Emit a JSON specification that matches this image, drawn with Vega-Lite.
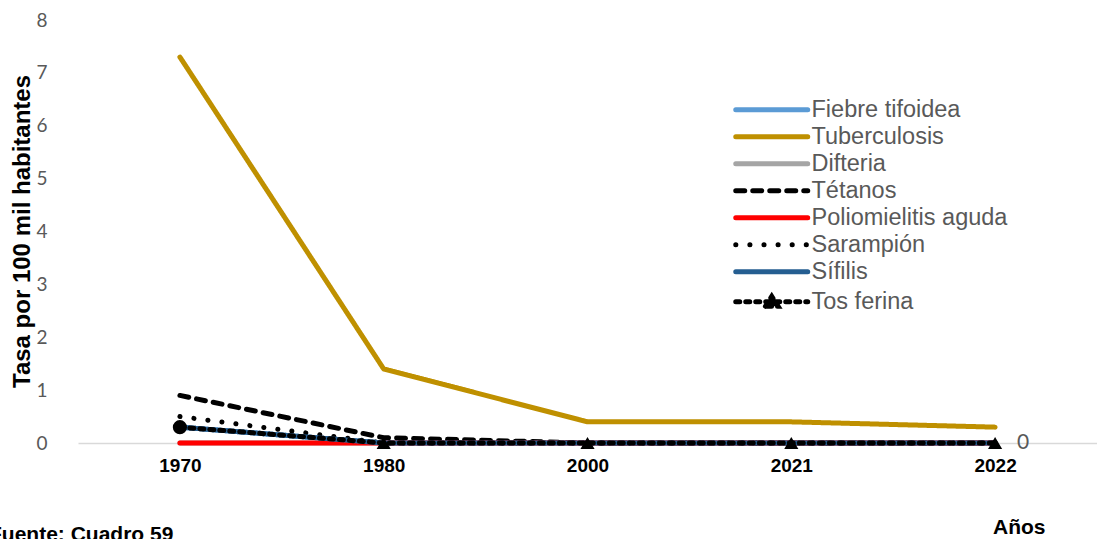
{
  "$schema": "https://vega.github.io/schema/vega-lite/v6.json",
  "width": 1019,
  "height": 423,
  "autosize": "none",
  "padding": {"left": 78, "top": 20, "right": 0, "bottom": 96},
  "background": "white",
  "config": {"view": {"stroke": null}},
  "title": {
    "text": "Fuente: Cuadro 59",
    "orient": "bottom",
    "anchor": "start",
    "frame": "group",
    "font": "Liberation Sans",
    "fontWeight": "bold",
    "fontSize": 21,
    "color": "#000000",
    "dx": -89,
    "dy": -13,
    "offset": 0
  },
  "data": {
    "values": [
      {"serie": "Fiebre tifoidea", "anio": "1970", "valor": 0.3},
      {"serie": "Fiebre tifoidea", "anio": "1980", "valor": 0},
      {"serie": "Fiebre tifoidea", "anio": "2000", "valor": 0},
      {"serie": "Fiebre tifoidea", "anio": "2021", "valor": 0},
      {"serie": "Fiebre tifoidea", "anio": "2022", "valor": 0},
      {"serie": "Tuberculosis", "anio": "1970", "valor": 7.3},
      {"serie": "Tuberculosis", "anio": "1980", "valor": 1.4},
      {"serie": "Tuberculosis", "anio": "2000", "valor": 0.4},
      {"serie": "Tuberculosis", "anio": "2021", "valor": 0.4},
      {"serie": "Tuberculosis", "anio": "2022", "valor": 0.3},
      {"serie": "Difteria", "anio": "1970", "valor": 0},
      {"serie": "Difteria", "anio": "1980", "valor": 0},
      {"serie": "Difteria", "anio": "2000", "valor": 0},
      {"serie": "Difteria", "anio": "2021", "valor": 0},
      {"serie": "Difteria", "anio": "2022", "valor": 0},
      {"serie": "Tétanos", "anio": "1970", "valor": 0.9},
      {"serie": "Tétanos", "anio": "1980", "valor": 0.1},
      {"serie": "Tétanos", "anio": "2000", "valor": 0},
      {"serie": "Tétanos", "anio": "2021", "valor": 0},
      {"serie": "Tétanos", "anio": "2022", "valor": 0},
      {"serie": "Poliomielitis aguda", "anio": "1970", "valor": 0},
      {"serie": "Poliomielitis aguda", "anio": "1980", "valor": 0},
      {"serie": "Poliomielitis aguda", "anio": "2000", "valor": 0},
      {"serie": "Poliomielitis aguda", "anio": "2021", "valor": 0},
      {"serie": "Poliomielitis aguda", "anio": "2022", "valor": 0},
      {"serie": "Sarampión", "anio": "1970", "valor": 0.5},
      {"serie": "Sarampión", "anio": "1980", "valor": 0},
      {"serie": "Sarampión", "anio": "2000", "valor": 0},
      {"serie": "Sarampión", "anio": "2021", "valor": 0},
      {"serie": "Sarampión", "anio": "2022", "valor": 0},
      {"serie": "Sífilis", "anio": "1970", "valor": 0.3},
      {"serie": "Sífilis", "anio": "1980", "valor": 0},
      {"serie": "Sífilis", "anio": "2000", "valor": 0},
      {"serie": "Sífilis", "anio": "2021", "valor": 0},
      {"serie": "Sífilis", "anio": "2022", "valor": 0},
      {"serie": "Tos ferina", "anio": "1970", "valor": 0.3},
      {"serie": "Tos ferina", "anio": "1980", "valor": 0},
      {"serie": "Tos ferina", "anio": "2000", "valor": 0},
      {"serie": "Tos ferina", "anio": "2021", "valor": 0},
      {"serie": "Tos ferina", "anio": "2022", "valor": 0}
    ]
  },
  "encoding": {
    "x": {
      "field": "anio",
      "type": "ordinal",
      "sort": ["1970", "1980", "2000", "2021", "2022"],
      "scale": {"type": "point", "padding": 0.5},
      "axis": {
        "title": "Años",
        "titleFont": "Liberation Sans",
        "titleFontWeight": "bold",
        "titleFontSize": 21,
        "titleColor": "#000000",
        "titleAnchor": "end",
        "titleAlign": "right",
        "titleX": 967,
        "titleY": 90,
        "titleBaseline": "alphabetic",
        "labelAngle": 0,
        "labelFont": "Liberation Sans",
        "labelFontWeight": "bold",
        "labelFontSize": 19,
        "labelColor": "#000000",
        "labelPadding": 13,
        "ticks": false,
        "domainColor": "#d9d9d9",
        "domainWidth": 1.5,
        "grid": false
      }
    },
    "y": {
      "field": "valor",
      "type": "quantitative",
      "scale": {"domain": [0, 8], "nice": false},
      "axis": {
        "title": "Tasa por 100 mil habitantes",
        "titleFont": "Liberation Sans",
        "titleFontWeight": "bold",
        "titleFontSize": 24,
        "titleColor": "#000000",
        "titleX": -56,
        "titleY": 211,
        "titleAngle": -90,
        "titleBaseline": "middle",
        "titleAlign": "center",
        "values": [0, 1, 2, 3, 4, 5, 6, 7, 8],
        "labelFont": "Lato",
        "labelFontSize": 19,
        "labelColor": "#595959",
        "labelPadding": 31,
        "ticks": false,
        "domain": false,
        "grid": false
      }
    }
  },
  "layer": [
    {
      "mark": {"type": "line", "strokeCap": "round", "strokeJoin": "round"},
      "encoding": {
        "color": {
          "field": "serie",
          "type": "nominal",
          "scale": {
            "domain": ["Fiebre tifoidea", "Tuberculosis", "Difteria", "Tétanos", "Poliomielitis aguda", "Sarampión", "Sífilis", "Tos ferina"],
            "range": ["#5B9BD5", "#BF9000", "#A5A5A5", "#000000", "#FF0000", "#000000", "#255E91", "#000000"]
          },
          "legend": {
            "title": null,
            "orient": "none",
            "legendX": 682,
            "legendY": 78,
            "padding": 0,
            "symbolType": "M-4,0H4",
            "symbolSize": 324,
            "labelFont": "Liberation Sans",
            "labelFontSize": 23.5,
            "labelColor": "#595959",
            "labelOffset": 28,
            "labelLimit": 400,
            "rowPadding": 2,
            "encode": {
              "symbols": {
                "update": {
                  "strokeCap": {"value": "round"},
                  "shape": {"signal": "datum.value === 'Tos ferina' ? 'M-4,0H4M-0.7,0.5L0,-0.6L0.7,0.5Z' : 'M-4,0H4'"},
                  "fill": {"signal": "datum.value === 'Tos ferina' ? '#000000' : 'transparent'"},
                  "fillOpacity": {"value": 1}
                }
              }
            }
          }
        },
        "strokeDash": {
          "field": "serie",
          "type": "nominal",
          "scale": {
            "domain": ["Fiebre tifoidea", "Tuberculosis", "Difteria", "Tétanos", "Poliomielitis aguda", "Sarampión", "Sífilis", "Tos ferina"],
            "range": [[1, 0], [1, 0], [1, 0], [9, 8], [1, 0], [0.1, 14], [1, 0], [4, 6]]
          }
        },
        "strokeWidth": {
          "field": "serie",
          "type": "nominal",
          "scale": {
            "domain": ["Fiebre tifoidea", "Tuberculosis", "Difteria", "Tétanos", "Poliomielitis aguda", "Sarampión", "Sífilis", "Tos ferina"],
            "range": [5, 5, 5, 3, 5, 6, 5, 2]
          }
        }
      }
    },
    {
      "transform": [{"filter": "datum.serie === 'Tos ferina'"}],
      "mark": {"type": "point", "filled": true, "color": "#000000", "opacity": 1},
      "encoding": {
        "shape": {
          "condition": {"test": "datum.anio === '1970'", "value": "circle"},
          "value": "triangle-up"
        },
        "size": {"value": 200}
      }
    },
    {
      "transform": [{"filter": "datum.serie === 'Tos ferina' && datum.anio === '2022'"}],
      "mark": {"type": "text", "align": "left", "baseline": "middle", "dx": 22, "font": "Lato", "fontSize": 21, "color": "#595959"},
      "encoding": {
        "text": {"field": "valor", "type": "quantitative"}
      }
    }
  ]
}
